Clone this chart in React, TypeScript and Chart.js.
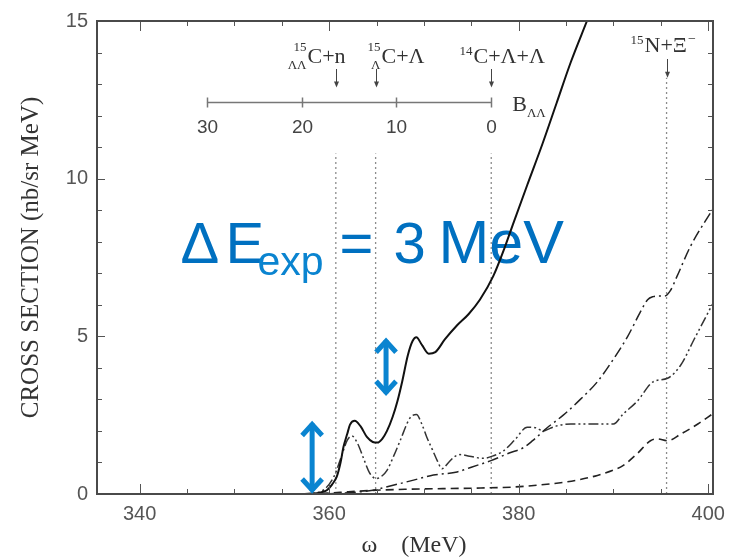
import React, { useEffect, useRef } from 'react';
import { Chart, registerables } from 'chart.js';

Chart.register(...registerables);

const SANS = '"Liberation Sans", Arial, sans-serif';
const SERIF = '"Liberation Serif", "Times New Roman", serif';
const BLUE = '#0070c0';
const BLUE_LIGHT = '#0a84d0';

// Axes
const OMEGA_RANGE = [335.5, 400.5];
const SIGMA_RANGE = [0, 15];
const OMEGA_TICKS = [340, 360, 380, 400];
const SIGMA_TICKS = [0, 5, 10, 15];
const OMEGA_MINOR_STEP = 5;
const SIGMA_MINOR_STEP = 1;

// Solid curve
const SOLID_OMEGA = [355, 357.5, 358.5, 359.2, 359.75, 360.3, 360.8, 361.2, 361.5, 361.9, 362.2, 362.7, 363.3, 364.0, 364.6, 365.1, 365.6, 366.1, 366.7, 367.2, 367.7, 368.3, 368.8, 369.2, 369.8, 370.5, 371.2, 372.2, 373.5, 374.7, 375.9, 377.3, 378.5, 379.4, 380.9, 382.5, 384.0, 385.5, 387.2, 388.5];
const SOLID_SIGMA = [0, 0, 0.02, 0.06, 0.12, 0.3, 0.55, 1.0, 1.48, 1.9, 2.2, 2.32, 2.15, 1.8, 1.65, 1.63, 1.75, 2.0, 2.45, 2.94, 3.56, 4.4, 4.85, 4.97, 4.72, 4.45, 4.5, 4.9, 5.35, 5.7, 6.16, 6.9, 7.8, 8.56, 9.8, 11.1, 12.4, 13.7, 15.0, 16.0];

// Dash-dot-dot curve
const DDD_OMEGA = [355, 358, 359.5, 360.5, 361.3, 361.9, 362.4, 363.0, 363.6, 364.3, 365.0, 365.6, 366.1, 366.8, 367.5, 368.5, 369.2, 369.8, 370.3, 370.9, 371.4, 371.9, 372.6, 373.2, 373.8, 374.8, 376.3, 377.4, 378.4, 379.6, 380.9, 381.8, 382.6, 383.3, 384.0, 385.5, 387.5, 390.0, 391.0, 392.5, 394.2, 395.7, 397.1, 398.5, 400.5];
const DDD_SIGMA = [0, 0.02, 0.15, 0.55, 1.2, 1.7, 1.84, 1.6, 1.15, 0.65, 0.49, 0.58, 0.75, 1.2, 1.7, 2.4, 2.52, 2.2, 1.8, 1.4, 1.06, 0.8, 1.0, 1.18, 1.25, 1.2, 1.13, 1.22, 1.37, 1.72, 2.12, 2.1, 2.0, 2.08, 2.16, 2.22, 2.22, 2.22, 2.53, 2.94, 3.56, 3.67, 4.09, 4.9, 6.05];

// Dash-dot curve
const DD_OMEGA = [355, 360, 362, 364.6, 366, 368.9, 371, 373.5, 375, 377, 379, 380.5, 381.5, 383, 384.7, 386.5, 388.3, 390, 391.5, 392.8, 393.6, 394.2, 394.8, 395.4, 396.0, 396.7, 398.1, 400.5];
const DD_SIGMA = [0, 0.01, 0.04, 0.12, 0.22, 0.44, 0.6, 0.7, 0.85, 1.05, 1.3, 1.47, 1.7, 2.1, 2.5, 3.0, 3.56, 4.28, 5.0, 5.75, 6.16, 6.26, 6.28, 6.28, 6.45, 6.9, 7.84, 9.05];

// Dashed curve
const DASH_OMEGA = [355, 358, 360, 362, 365, 368, 372, 376, 379.4, 382, 384.7, 386.5, 388.3, 390, 391, 392.5, 393.9, 394.6, 395.7, 397.1, 398.9, 400.5];
const DASH_SIGMA = [0, 0.01, 0.03, 0.07, 0.12, 0.15, 0.17, 0.19, 0.22, 0.28, 0.37, 0.46, 0.59, 0.76, 0.9, 1.28, 1.69, 1.75, 1.69, 1.9, 2.22, 2.55];

// Thresholds (dotted verticals) and their labels
const THRESHOLD_OMEGA = [360.7, 364.9, 377.1, 395.6];
const THRESHOLD_TOP = [10.8, 10.8, 10.8, 13.2];
const THRESHOLD_SUP = ['15', '15', '14', '15'];
const THRESHOLD_SUB = ['ΛΛ', 'Λ', '', ''];
const THRESHOLD_MAIN = ['C+n', 'C+Λ', 'C+Λ+Λ', 'N+Ξ'];
const THRESHOLD_AFTER = ['', '', '', '−'];

// Binding-energy scale, B = 0 at the 14C+Λ+Λ threshold
const B_ZERO_OMEGA = 377.1;
const B_TICKS = [30, 20, 10, 0];
const B_AXIS_SIGMA = 12.44;

// Blue height markers
const MARK_OMEGA = [358.2, 366.0];
const MARK_FROM = [0, 3.1];
const MARK_TO = [2.33, 4.97];
const NOTE_OMEGA = 344.3;
const NOTE_SIGMA = 7.31;

const pts = (xs: number[], ys: number[]) => xs.map((x, i) => ({ x, y: ys[i] }));

const curve = (xs: number[], ys: number[], dash: number[], width: number, color: string) => ({
  data: pts(xs, ys),
  borderColor: color,
  borderWidth: width,
  borderDash: dash,
  pointRadius: 0,
  fill: false,
  cubicInterpolationMode: 'monotone' as const,
});

function line(ctx: CanvasRenderingContext2D, x1: number, y1: number, x2: number, y2: number) {
  ctx.beginPath();
  ctx.moveTo(x1, y1);
  ctx.lineTo(x2, y2);
  ctx.stroke();
}

function smallArrow(ctx: CanvasRenderingContext2D, x: number, y1: number, y2: number) {
  ctx.strokeStyle = '#444';
  ctx.fillStyle = '#444';
  ctx.lineWidth = 1;
  line(ctx, x, y1, x, y2 - 3);
  ctx.beginPath();
  ctx.moveTo(x, y2);
  ctx.lineTo(x - 2.5, y2 - 6);
  ctx.lineTo(x + 2.5, y2 - 6);
  ctx.closePath();
  ctx.fill();
}

function blueArrow(ctx: CanvasRenderingContext2D, x: number, yTop: number, yBot: number) {
  ctx.strokeStyle = BLUE_LIGHT;
  ctx.lineWidth = 5;
  ctx.lineJoin = 'miter';
  ctx.lineCap = 'butt';
  line(ctx, x, yTop + 3, x, yBot - 3);
  ctx.beginPath();
  ctx.moveTo(x - 10, yTop + 15);
  ctx.lineTo(x, yTop + 4);
  ctx.lineTo(x + 10, yTop + 15);
  ctx.stroke();
  ctx.beginPath();
  ctx.moveTo(x - 10, yBot - 15);
  ctx.lineTo(x, yBot - 4);
  ctx.lineTo(x + 10, yBot - 15);
  ctx.stroke();
}

const noteUnderlay = {
  id: 'noteUnderlay',
  beforeDatasetsDraw(chart: any) {
    const { ctx, scales } = chart;
    const bx = scales.x.getPixelForValue(NOTE_OMEGA);
    const by = scales.y.getPixelForValue(NOTE_SIGMA);
    ctx.save();
    ctx.textAlign = 'left';
    ctx.textBaseline = 'alphabetic';
    ctx.fillStyle = BLUE;
    ctx.font = `58px ${SANS}`;
    ctx.fillText('Δ', bx, by);
    ctx.fillText('E', bx + 45, by);
    ctx.fillText('=', bx + 159, by);
    ctx.fillText('3', bx + 213, by);
    ctx.font = `61px ${SANS}`;
    ctx.fillText('MeV', bx + 258, by);
    ctx.fillStyle = BLUE_LIGHT;
    ctx.font = `41px ${SANS}`;
    ctx.fillText('exp', bx + 77, by + 12);
    ctx.restore();
  },
};

const frameOverlay = {
  id: 'frameOverlay',
  afterDatasetsDraw(chart: any) {
    const { ctx, chartArea, scales } = chart;
    const { left, right, top, bottom } = chartArea;
    const xs = scales.x;
    const ys = scales.y;
    ctx.save();

    // inward ticks on all four sides
    ctx.strokeStyle = '#555';
    ctx.lineWidth = 1;
    for (let v = Math.ceil(OMEGA_RANGE[0] / OMEGA_MINOR_STEP) * OMEGA_MINOR_STEP; v <= OMEGA_RANGE[1]; v += OMEGA_MINOR_STEP) {
      const px = Math.round(xs.getPixelForValue(v)) + 0.5;
      const len = OMEGA_TICKS.includes(v) ? 10 : 5;
      line(ctx, px, bottom, px, bottom - len);
      line(ctx, px, top, px, top + len);
    }
    for (let v = SIGMA_RANGE[0]; v <= SIGMA_RANGE[1]; v += SIGMA_MINOR_STEP) {
      const py = Math.round(ys.getPixelForValue(v)) + 0.5;
      const len = SIGMA_TICKS.includes(v) ? 8 : 5;
      line(ctx, left, py, left + len, py);
      line(ctx, right, py, right - len, py);
    }
    ctx.strokeStyle = '#4a4a4a';
    ctx.lineWidth = 2;
    ctx.strokeRect(left, top, right - left, bottom - top);

    // binding-energy scale
    const bPx = (b: number) => xs.getPixelForValue(B_ZERO_OMEGA - b);
    const bY = Math.round(ys.getPixelForValue(B_AXIS_SIGMA)) + 0.5;
    ctx.strokeStyle = '#777';
    ctx.lineWidth = 1.5;
    line(ctx, bPx(B_TICKS[0]), bY, bPx(B_TICKS[B_TICKS.length - 1]), bY);
    ctx.fillStyle = '#444';
    ctx.font = `19px ${SANS}`;
    ctx.textAlign = 'center';
    ctx.textBaseline = 'middle';
    B_TICKS.forEach((b) => {
      const px = Math.round(bPx(b)) + 0.5;
      line(ctx, px, bY - 5, px, bY + 5);
      ctx.fillText(String(b), px, bY + 25);
    });
    ctx.textBaseline = 'alphabetic';
    ctx.textAlign = 'left';
    ctx.fillStyle = '#333';
    const bLabelX = bPx(B_TICKS[B_TICKS.length - 1]) + 21;
    ctx.font = `22px ${SERIF}`;
    ctx.fillText('B', bLabelX, bY + 8);
    const bW = ctx.measureText('B').width;
    ctx.font = `13px ${SERIF}`;
    ctx.fillText('ΛΛ', bLabelX + bW, bY + 14);

    // threshold labels and arrows
    THRESHOLD_OMEGA.forEach((w, i) => {
      const ax = Math.round(xs.getPixelForValue(w)) + 0.5;
      const last = i === THRESHOLD_OMEGA.length - 1;
      const base = last ? top + 31 : top + 42;
      const mainX = [ax - 29, ax + 5, ax - 18, ax - 23][i];
      ctx.fillStyle = '#333';
      ctx.textAlign = 'right';
      ctx.font = `13px ${SERIF}`;
      ctx.fillText(THRESHOLD_SUP[i], mainX - 1, base - (THRESHOLD_SUB[i] ? 12 : 8));
      if (THRESHOLD_SUB[i]) ctx.fillText(THRESHOLD_SUB[i], mainX - 1, base + 6);
      ctx.textAlign = 'left';
      ctx.font = `22px ${SERIF}`;
      ctx.fillText(THRESHOLD_MAIN[i], mainX, base);
      if (THRESHOLD_AFTER[i]) {
        const mw = ctx.measureText(THRESHOLD_MAIN[i]).width;
        ctx.font = `14px ${SERIF}`;
        ctx.fillText(THRESHOLD_AFTER[i], mainX + mw + 1, base - 9);
      }
      const yTop = ys.getPixelForValue(THRESHOLD_TOP[i]);
      smallArrow(ctx, ax, last ? base + 7 : base + 6, last ? yTop : yTop - 66);
    });

    // blue height markers
    MARK_OMEGA.forEach((w, i) => {
      const x = xs.getPixelForValue(w);
      blueArrow(ctx, x, ys.getPixelForValue(MARK_TO[i]), ys.getPixelForValue(MARK_FROM[i]));
    });

    ctx.restore();
  },
};

export default function App() {
  const ref = useRef<HTMLCanvasElement>(null);

  useEffect(() => {
    const canvas = ref.current;
    if (!canvas) return;

    const datasets: any[] = [
      curve(SOLID_OMEGA, SOLID_SIGMA, [], 2, '#111'),
      curve(DD_OMEGA, DD_SIGMA, [11, 4, 2, 4], 1.5, '#222'),
      curve(DDD_OMEGA, DDD_SIGMA, [10, 3, 2, 3, 2, 3], 1.5, '#333'),
      curve(DASH_OMEGA, DASH_SIGMA, [8, 5], 1.6, '#222'),
      ...THRESHOLD_OMEGA.map((w, i) => ({
        data: [{ x: w, y: 0 }, { x: w, y: THRESHOLD_TOP[i] }],
        borderColor: '#8c8c8c',
        borderWidth: 1.3,
        borderDash: [2, 3],
        pointRadius: 0,
        fill: false,
      })),
    ];

    const chart = new Chart(canvas, {
      type: 'line',
      data: { datasets },
      options: {
        responsive: false,
        maintainAspectRatio: false,
        devicePixelRatio: 1,
        animation: false,
        layout: { padding: { left: 0, top: 14, right: 26, bottom: 0 } },
        plugins: { legend: { display: false }, tooltip: { enabled: false } },
        elements: { point: { radius: 0 } },
        scales: {
          x: {
            type: 'linear',
            min: OMEGA_RANGE[0],
            max: OMEGA_RANGE[1],
            afterBuildTicks: (s: any) => {
              s.ticks = OMEGA_TICKS.map((v) => ({ value: v }));
            },
            afterFit: (s: any) => {
              s.height = 66;
            },
            ticks: {
              autoSkip: false,
              maxRotation: 0,
              padding: 8,
              color: '#555',
              font: { family: SANS, size: 20 },
            },
            grid: { display: false, drawTicks: false },
            border: { display: false },
            title: {
              display: true,
              text: '   ω\u2003(MeV)',
              color: '#333',
              font: { family: SERIF, size: 24 },
              padding: { top: 0, bottom: 0 },
            },
          },
          y: {
            type: 'linear',
            min: SIGMA_RANGE[0],
            max: SIGMA_RANGE[1],
            afterBuildTicks: (s: any) => {
              s.ticks = SIGMA_TICKS.map((v) => ({ value: v }));
            },
            afterFit: (s: any) => {
              s.width = 97;
            },
            ticks: {
              padding: 9,
              color: '#555',
              font: { family: SANS, size: 20 },
            },
            grid: { display: false, drawTicks: false },
            border: { display: false },
            title: {
              display: true,
              text: 'CROSS SECTION (nb/sr MeV)',
              color: '#333',
              font: { family: SERIF, size: 25 },
              padding: { top: 16, bottom: 0 },
            },
          },
        },
      } as any,
      plugins: [noteUnderlay, frameOverlay],
    });

    return () => chart.destroy();
  }, []);

  return (
    <div style={{ position: 'absolute', left: 0, top: 0, width: 739, height: 560, background: '#fff' }}>
      <canvas ref={ref} width={739} height={560} style={{ display: 'block', width: 739, height: 560 }} />
    </div>
  );
}
